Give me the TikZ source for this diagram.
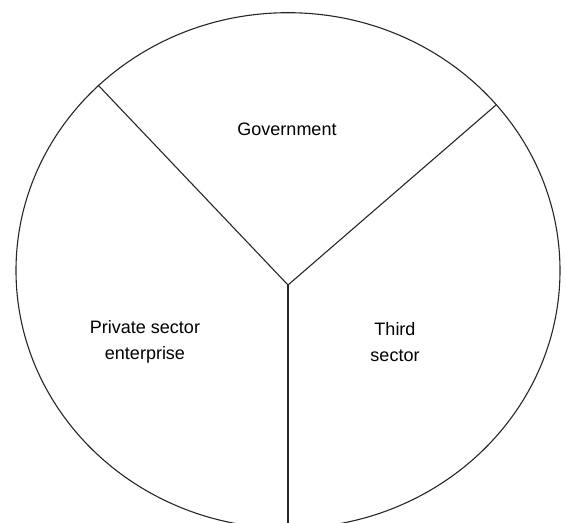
\documentclass[tikz,border=0pt]{standalone}
\usepackage{fontspec}
\setmainfont{Liberation Sans}
\begin{document}
\begin{tikzpicture}[x=1pt,y=-1pt,
  edge/.style={draw=black!85,line width=1.1pt},
  label/.style={font=\fontsize{18}{25.5}\selectfont,align=center,text=black}]
\useasboundingbox (0,0) rectangle (566,523);
\clip (0,0) rectangle (566,523);
\draw[edge] (288,270.5) ellipse [x radius=272, y radius=257.8];
\coordinate (J) at (288,285);
\coordinate (L) at (98,85);
\coordinate (R) at (496,105);
\coordinate (B) at (288,530);
\draw[edge] (J) -- (L);
\draw[edge] (J) -- (R);
\draw[edge] (J) -- (B);
\node[label] (gov) at (287,129) {Government};
\node[label] (priv) at (145,342) {Private sector\\enterprise};
\node[label] (third) at (395,342) {Third\\sector};
\end{tikzpicture}
\end{document}
